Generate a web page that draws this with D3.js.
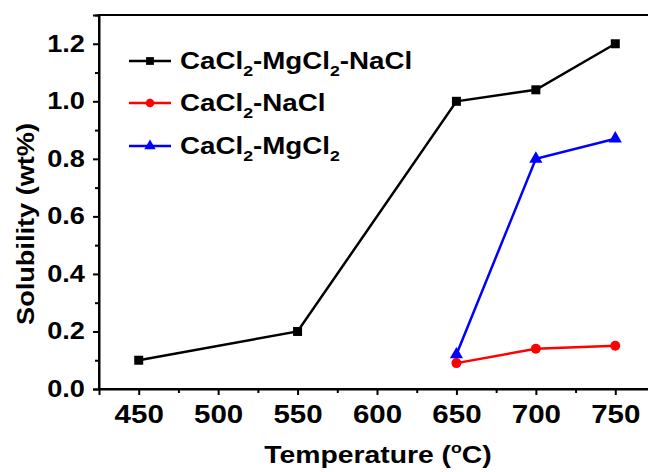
<!DOCTYPE html>
<html>
<head>
<meta charset="utf-8">
<script src="https://cdn.jsdelivr.net/npm/d3@7"></script>
<style>
  body { margin: 0; background: #fff; }
  text { font-family: "Liberation Sans", Arial, sans-serif; font-weight: bold; }
</style>
</head>
<body>
<svg id="chart" width="648" height="472"></svg>
<script>
// data
const temps = [450, 550, 650, 700, 750];
const ternary = [0.10, 0.20, 1.00, 1.04, 1.20];
const tempsB = [650, 700, 750];
const caNa = [0.09, 0.14, 0.15];
const caMg = [0.12, 0.80, 0.87];
const xTicks = [450, 500, 550, 600, 650, 700, 750];
const yTicks = [0.0, 0.2, 0.4, 0.6, 0.8, 1.0, 1.2];

const series = [
  { name: ["CaCl", "-MgCl", "-NaCl"], xs: temps, ys: ternary, color: "#000000", shape: d3.symbolSquare, size: 81 },
  { name: ["CaCl", "-NaCl"], xs: tempsB, ys: caNa, color: "#ff0000", shape: d3.symbolCircle, size: 78 },
  { name: ["CaCl", "-MgCl", ""], xs: tempsB, ys: caMg, color: "#0000ff", shape: d3.symbolTriangle, size: 75 }
];

const svg = d3.select("#chart");
const plotL = 99, plotT = 15, plotB = 389, plotR = 655;
const S = 1.18; // the figure's lettering is a bit wider than Liberation Sans

const x = d3.scaleLinear().domain([425, 775]).range([plotL, plotR]);
const y = d3.scaleLinear().domain([0, 1.3]).range([plotB, plotT]);

// frame
svg.append("rect")
   .attr("x", plotL).attr("y", plotT)
   .attr("width", plotR - plotL).attr("height", plotB - plotT)
   .attr("fill", "none").attr("stroke", "#000").attr("stroke-width", 2);

// x axis
const gx = svg.append("g").attr("transform", `translate(0,${plotB})`)
   .call(d3.axisBottom(x).tickValues(xTicks).tickSize(6).tickPadding(10).tickFormat(d3.format("d")));
gx.selectAll(".tick text").attr("font-size", 25).attr("transform", `scale(${S},1)`);
svg.append("g").attr("transform", `translate(0,${plotB})`)
   .call(d3.axisBottom(x).tickValues(xTicks.map(d => d + 25)).tickSize(4).tickFormat(""))
   .call(g => g.select(".domain").remove());

// y axis
const gy = svg.append("g").attr("transform", `translate(${plotL},0)`)
   .call(d3.axisLeft(y).tickValues(yTicks).tickSize(6).tickPadding(6).tickFormat(d3.format(".1f")));
gy.selectAll(".tick text").attr("font-size", 23).attr("transform", `scale(${S},1)`);
svg.append("g").attr("transform", `translate(${plotL},0)`)
   .call(d3.axisLeft(y).tickValues(yTicks.map(d => d + 0.1)).tickSize(4).tickFormat(""))
   .call(g => g.select(".domain").remove());

svg.selectAll(".tick line").attr("stroke-width", 2);
svg.selectAll(".domain").attr("stroke-width", 2);
svg.selectAll(".tick text").attr("fill", "#000");

// axis titles
const xt = svg.append("text")
   .attr("transform", `translate(378,463) scale(${S},1)`)
   .attr("text-anchor", "middle").attr("font-size", 24);
xt.append("tspan").text("Temperature (");
xt.append("tspan").text("o").attr("font-size", 15).attr("dy", -10);
xt.append("tspan").text("C)").attr("dy", 10);

svg.append("text")
   .attr("transform", `translate(34,224) rotate(-90) scale(${S},1)`)
   .attr("text-anchor", "middle").attr("font-size", 23)
   .text("Solubility (wt%)");

// lines and markers
const line = d3.line().x(d => x(d[0])).y(d => y(d[1]));
series.forEach(s => {
  const pts = s.xs.map((t, i) => [t, s.ys[i]]);
  svg.append("path").datum(pts)
     .attr("d", line).attr("fill", "none")
     .attr("stroke", s.color).attr("stroke-width", 2.5);
  svg.selectAll(null).data(pts).enter().append("path")
     .attr("transform", d => `translate(${x(d[0])},${y(d[1])})`)
     .attr("d", d3.symbol().type(s.shape).size(s.size))
     .attr("fill", s.color);
});

// legend
const legY = [61, 103, 146];
series.forEach((s, i) => {
  const g = svg.append("g").attr("transform", `translate(0,${legY[i]})`);
  g.append("line").attr("x1", 129).attr("x2", 171).attr("y1", 0).attr("y2", 0)
   .attr("stroke", s.color).attr("stroke-width", 2.5);
  g.append("path").attr("transform", "translate(150,0)")
   .attr("d", d3.symbol().type(s.shape).size(s.size * 0.75))
   .attr("fill", s.color);
  const t = g.append("text").attr("transform", `translate(180,8) scale(${S},1)`)
   .attr("font-size", 23.5);
  s.name.forEach((part, j) => {
    if (j > 0) {
      t.append("tspan").text("2").attr("font-size", 15).attr("dy", 7);
      if (part) t.append("tspan").text(part).attr("dy", -7);
    } else {
      t.append("tspan").text(part);
    }
  });
});
</script>
</body>
</html>
